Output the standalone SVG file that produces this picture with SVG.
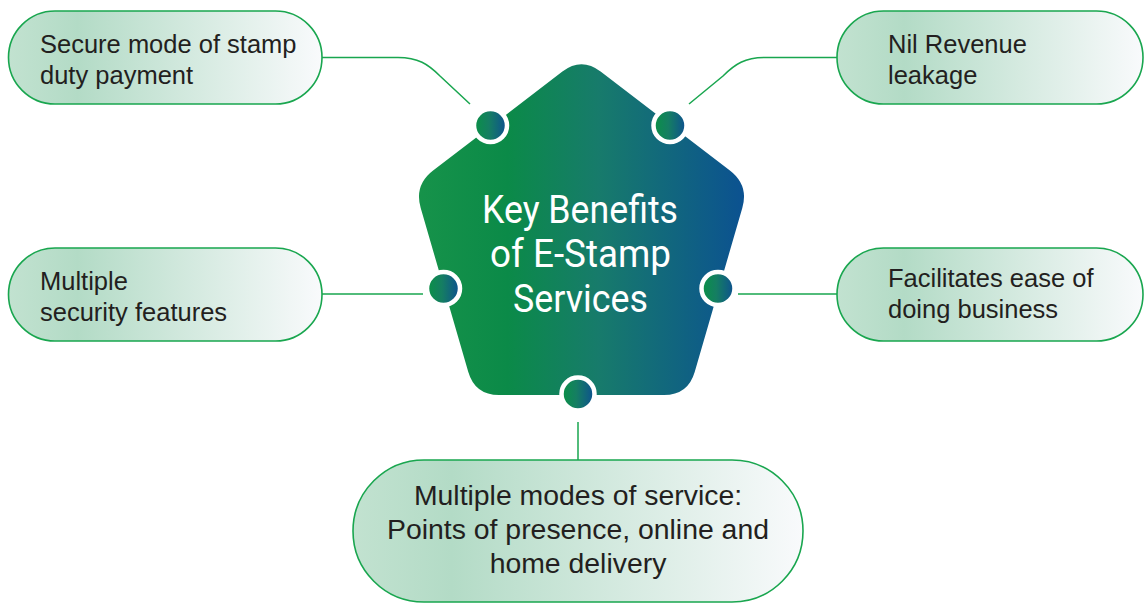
<svg xmlns="http://www.w3.org/2000/svg" width="1144" height="604" viewBox="0 0 1144 604">
  <defs>
    <linearGradient id="pentGrad" gradientUnits="userSpaceOnUse" x1="414" y1="0" x2="749" y2="0">
      <stop offset="0" stop-color="#17934a"/>
      <stop offset="0.28" stop-color="#0b8a48"/>
      <stop offset="0.55" stop-color="#177b6b"/>
      <stop offset="1" stop-color="#0b5092"/>
    </linearGradient>
    <linearGradient id="dotGrad" x1="0" y1="0" x2="1" y2="0">
      <stop offset="0" stop-color="#0a9145"/>
      <stop offset="0.45" stop-color="#157e62"/>
      <stop offset="1" stop-color="#0d4f91"/>
    </linearGradient>
    <linearGradient id="boxGrad" x1="0" y1="0" x2="1" y2="0">
      <stop offset="0" stop-color="#c2e2d0"/>
      <stop offset="0.22" stop-color="#b3dbc6"/>
      <stop offset="1" stop-color="#f9fafc"/>
    </linearGradient>
  </defs>
  <style>
    .box { fill: url(#boxGrad); stroke: #19a64f; stroke-width: 1.6; }
    .lbl { font-family: "Liberation Sans", Arial, sans-serif; font-size: 25.5px; fill: #231f20; }
    .lblc { font-family: "Liberation Sans", Arial, sans-serif; font-size: 28.4px; fill: #231f20; text-anchor: middle; }
    .title { font-family: Roboto, "Liberation Sans", sans-serif; font-size: 39px; fill: #ffffff; text-anchor: middle; }
    .conn { fill: none; stroke: #19a64f; stroke-width: 1.5; }
    .dot { fill: url(#dotGrad); stroke: #ffffff; stroke-width: 4.5; }
  </style>

  <g id="connectors">
    <path class="conn" d="M 322 57.5 H 398 C 418 57.5 428 64 440 76 L 470 104"/>
    <path class="conn" d="M 837 57.5 H 765 C 745 57.5 735 64 723 76 L 689 104"/>
    <path class="conn" d="M 322 294 H 423"/>
    <path class="conn" d="M 738 294 H 837"/>
    <path class="conn" d="M 578 422 V 460"/>
  </g>

  <g id="center">
    <path fill="url(#pentGrad)" d="M 562.4 71.6 Q 581.5 57 600.6 71.6 L 729.9 170.4 Q 749 185 742.3 208 L 694.7 372 Q 688 395 664 395 L 499 395 Q 475 395 468.3 372 L 420.7 208 Q 414 185 433.1 170.4 Z"/>
    <text class="title" x="580" y="223" textLength="196" lengthAdjust="spacingAndGlyphs">Key Benefits</text>
    <text class="title" x="580.5" y="267" textLength="181" lengthAdjust="spacingAndGlyphs">of E-Stamp</text>
    <text class="title" x="580.5" y="312" textLength="135" lengthAdjust="spacingAndGlyphs">Services</text>
  </g>

  <g id="dots">
    <circle class="dot" cx="490.5" cy="125.5" r="16.5"/>
    <circle class="dot" cx="670" cy="125.5" r="16.5"/>
    <circle class="dot" cx="443.5" cy="288.5" r="16.5"/>
    <circle class="dot" cx="718" cy="288.5" r="16.5"/>
    <circle class="dot" cx="578" cy="394" r="16.5"/>
  </g>

  <g id="node-secure">
    <rect class="box" x="8.5" y="11" width="313.5" height="93" rx="46.5"/>
    <text class="lbl" x="40" y="53">Secure mode of stamp</text>
    <text class="lbl" x="40" y="84">duty payment</text>
  </g>

  <g id="node-nil">
    <rect class="box" x="837" y="11" width="306" height="93" rx="46.5"/>
    <text class="lbl" x="888" y="53">Nil Revenue</text>
    <text class="lbl" x="888" y="84">leakage</text>
  </g>

  <g id="node-security">
    <rect class="box" x="8.5" y="248" width="313.5" height="93" rx="46.5"/>
    <text class="lbl" x="40" y="290">Multiple</text>
    <text class="lbl" x="40" y="321">security features</text>
  </g>

  <g id="node-ease">
    <rect class="box" x="837" y="248" width="306" height="93" rx="46.5"/>
    <text class="lbl" x="888" y="287">Facilitates ease of</text>
    <text class="lbl" x="888" y="318">doing business</text>
  </g>

  <g id="node-modes">
    <rect class="box" x="353" y="460" width="450" height="142" rx="71"/>
    <text class="lblc" x="578" y="505">Multiple modes of service:</text>
    <text class="lblc" x="578" y="539">Points of presence, online and</text>
    <text class="lblc" x="578" y="573">home delivery</text>
  </g>
</svg>
